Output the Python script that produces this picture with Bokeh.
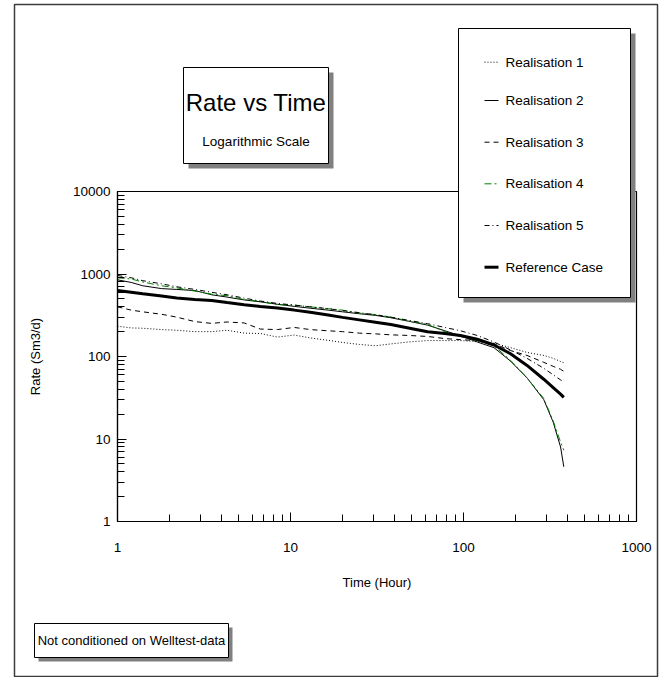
from bokeh.plotting import figure
from bokeh.layouts import column
from bokeh.models import ColumnDataSource, Range1d, FixedTicker, BasicTickFormatter
from bokeh.core.properties import value
from bokeh.embed import file_html
from bokeh.resources import INLINE

# ---------------- data ----------------
time_hours = [1, 1.2, 1.4, 1.8, 2.2, 2.8, 3.5, 4.3, 5.4, 6.7, 8.4, 10.5, 13, 16.5, 20,
              25, 31, 38, 48, 62, 78, 96, 120, 150, 187, 233, 291, 330, 364, 380]
realisation_1 = [233, 222, 220, 212, 208, 200, 200, 208, 192, 190, 172, 182, 168, 157, 148,
                 140, 135, 142, 150, 156, 156, 156, 152, 145, 128, 112, 103, 95, 87, 84]
realisation_2 = [850, 790, 720, 665, 650, 630, 560, 525, 485, 460, 430, 405, 385, 365, 348,
                 330, 315, 295, 268, 240, 205, 178, 150, 128, 88, 55, 30, 16, 8, 4.6]
realisation_3 = [400, 365, 348, 325, 300, 265, 252, 262, 255, 215, 212, 225, 212, 205, 200,
                 192, 188, 183, 180, 175, 165, 160, 156, 143, 118, 103, 85, 76, 70, 66]
realisation_4 = [900, 870, 800, 720, 680, 620, 570, 545, 490, 465, 425, 420, 400, 380, 365,
                 335, 322, 300, 270, 245, 200, 175, 155, 135, 90, 55, 31, 16.5, 9.2, 7.3]
realisation_5 = [960, 900, 830, 760, 700, 650, 600, 560, 510, 470, 440, 420, 400, 380, 360,
                 340, 320, 300, 275, 250, 225, 205, 180, 150, 120, 95, 72, 60, 52, 50]
reference_case = [630, 600, 575, 540, 512, 492, 477, 450, 425, 405, 387, 365, 343, 318, 298,
                  278, 260, 244, 222, 200, 190, 180, 162, 138, 108, 78, 53, 42, 35, 32]

series_names = ["Realisation 1", "Realisation 2", "Realisation 3", "Realisation 4",
                "Realisation 5", "Reference Case"]

x_ticks = [1, 10, 100, 1000]
x_tick_labels = ["1", "10", "100", "1000"]
y_ticks = [1, 10, 100, 1000, 10000]
y_tick_labels = ["1", "10", "100", "1000", "10000"]

title_text = "Rate vs Time"
subtitle_text = "Logarithmic Scale"
note_text = "Not conditioned on Welltest-data"
x_label = "Time (Hour)"
y_label = "Rate (Sm3/d)"

# ---------------- styles ----------------
FONT = "Liberation Sans"
W, H = 662, 677
FL, FR, FT, FB = 117, 636, 191, 521  # plot frame edges (canvas px)
SHADOW = "#808080"
GREEN = "#008000"

styles = [
    ("r1", "black", 1, "1 2"),
    ("r2", "black", 1, "solid"),
    ("r3", "black", 1, "5 4"),
    ("r4", GREEN, 1, "7 3 2 3"),
    ("r5", "black", 1, "5 3 1 3"),
    ("ref", "black", 3, "solid"),
]

# ---------------- main chart ----------------
p = figure(width=W, height=H, x_axis_type="log", y_axis_type="log",
           x_range=Range1d(1, 1000), y_range=Range1d(1, 10000),
           min_border_left=FL, min_border_right=W - FR,
           min_border_top=FT, min_border_bottom=H - FB,
           output_backend="svg", toolbar_location=None,
           background_fill_color="white", border_fill_color="white")
p.grid.visible = False
p.outline_line_color = "black"
p.outline_line_width = 1.2

x_minor = [m * 10 ** k for k in range(0, 3) for m in range(2, 10)]
y_minor = [m * 10 ** k for k in range(0, 4) for m in range(2, 10)]
p.xaxis.ticker = FixedTicker(ticks=x_ticks, minor_ticks=x_minor)
p.yaxis.ticker = FixedTicker(ticks=y_ticks, minor_ticks=y_minor)
p.xaxis.formatter = BasicTickFormatter(use_scientific=False)
p.yaxis.formatter = BasicTickFormatter(use_scientific=False)
p.xaxis.major_label_overrides = {t: s for t, s in zip(x_ticks, x_tick_labels)}
p.yaxis.major_label_overrides = {t: s for t, s in zip(y_ticks, y_tick_labels)}

for ax in (p.xaxis[0], p.yaxis[0]):
    ax.major_tick_in = 9
    ax.major_tick_out = 0
    ax.minor_tick_in = 7
    ax.minor_tick_out = 0
    ax.axis_line_color = "black"
    ax.axis_line_width = 1.2
    ax.major_tick_line_color = "black"
    ax.minor_tick_line_color = "black"
    ax.major_label_text_font = FONT
    ax.major_label_text_font_size = "13.5px"
    ax.major_label_text_color = "black"
    ax.axis_label_text_font = FONT
    ax.axis_label_text_font_size = "13px"
    ax.axis_label_text_font_style = "normal"
    ax.axis_label_text_color = "black"

p.xaxis.axis_label = x_label
p.yaxis.axis_label = y_label
p.xaxis.major_label_standoff = 21
p.xaxis.axis_label_standoff = 20
p.yaxis.major_label_standoff = 7
p.yaxis.axis_label_standoff = 27

src = ColumnDataSource(dict(t=time_hours, r1=realisation_1, r2=realisation_2,
                            r3=realisation_3, r4=realisation_4, r5=realisation_5,
                            ref=reference_case))
for col, color, width, dash in styles:
    p.line("t", col, source=src, line_color=color, line_width=width, line_dash=dash)

# ---------------- overlay with the boxes (pixel coordinates) ----------------
q = figure(width=W, height=H, x_range=Range1d(0, W), y_range=Range1d(H, 0),
           min_border=0, x_axis_location=None, y_axis_location=None,
           output_backend="svg", toolbar_location=None)
q.grid.visible = False
q.outline_line_color = None
q.background_fill_alpha = 0
q.border_fill_alpha = 0
q.styles = {"position": "absolute", "top": "0px", "left": "0px"}
for fig in (p, q):
    fig.frame_align = False

# outer frame
q.quad(left=[14], right=[657], top=[4], bottom=[676], fill_alpha=0,
       line_color="#3c3c3c", line_width=1.5)

# title box
q.quad(left=[188], right=[333], top=[72], bottom=[168], fill_color=SHADOW, line_alpha=0)
q.quad(left=[183], right=[328], top=[67], bottom=[163], fill_color="white",
       line_color="black", line_width=1)
q.text(x=[255.5], y=[102], text=[title_text], text_align="center", text_baseline="middle",
       text_font=value(FONT), text_font_size=value("24px"), text_color="black")
q.text(x=[255.5], y=[141], text=[subtitle_text], text_align="center", text_baseline="middle",
       text_font=value(FONT), text_font_size=value("13.5px"), text_color="black")

# legend box
q.quad(left=[463], right=[635], top=[33], bottom=[302], fill_color=SHADOW, line_alpha=0)
q.quad(left=[458], right=[630], top=[28], bottom=[297], fill_color="white",
       line_color="black", line_width=1)
legend_y = [61.7, 100, 141.7, 183.3, 225, 266.7]
for (col, color, width, dash), yy, name in zip(styles, legend_y, series_names):
    q.segment(x0=[484], y0=[yy], x1=[498], y1=[yy], line_color=color,
              line_width=width, line_dash=dash)
q.text(x=[505] * len(series_names), y=legend_y, text=series_names,
       text_align="left", text_baseline="middle", text_font=value(FONT),
       text_font_size=value("13.5px"), text_color="black")

# note box
q.quad(left=[38], right=[232], top=[627], bottom=[661], fill_color=SHADOW, line_alpha=0)
q.quad(left=[34], right=[228], top=[623], bottom=[657], fill_color="white",
       line_color="black", line_width=1)
q.text(x=[131], y=[640], text=[note_text], text_align="center", text_baseline="middle",
       text_font=value(FONT), text_font_size=value("13px"), text_color="black")

layout = column(p, q)
open("out.html", "w").write(file_html(layout, INLINE))
